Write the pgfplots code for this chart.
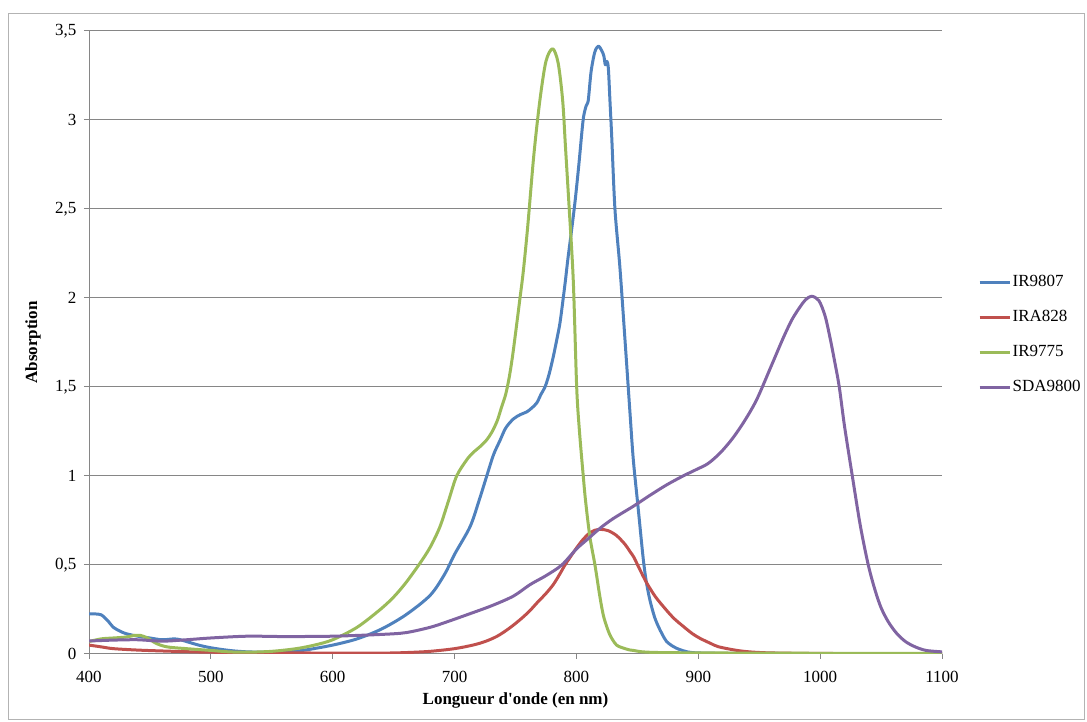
\documentclass[border=0pt]{standalone}
\usepackage{fontspec}
\setmainfont{Liberation Serif}[Ligatures=TeXOff]
\usepackage{pgfplots}
\usepackage{pgfplotstable}
\pgfplotsset{compat=1.18}
\definecolor{cblue}{HTML}{4F81BD}
\definecolor{cred}{HTML}{C0504D}
\definecolor{cgreen}{HTML}{9BBB59}
\definecolor{cpurple}{HTML}{8064A2}
\definecolor{gridgray}{HTML}{868686}
\definecolor{framegray}{HTML}{B3B3B3}

\pgfplotstableread{
x y
400 0.225
405 0.225
410 0.22
415 0.19
420 0.15
425 0.13
430 0.115
440 0.10
450 0.09
460 0.08
470 0.085
475 0.08
480 0.07
490 0.05
500 0.035
515 0.02
530 0.012
550 0.01
565 0.012
580 0.025
600 0.05
620 0.085
640 0.14
660 0.22
680 0.33
692 0.45
700 0.56
712.7 0.715
720 0.86
726.4 1.0
732 1.12
737.3 1.20
742 1.27
748.2 1.32
754 1.345
759.2 1.36
763 1.38
767.4 1.41
771 1.46
774.2 1.50
777.5 1.57
781 1.67
784 1.77
786.5 1.86
789 1.99
791 2.10
793 2.22
796 2.38
799 2.55
802 2.75
805.5 3.0
808 3.08
809.7 3.11
812 3.27
815 3.38
818 3.415
820.7 3.39
822.5 3.36
823.7 3.31
825 3.33
826.2 3.29
827.5 3.11
829 2.9
831.6 2.5
835.7 2.17
840 1.75
844 1.35
846.7 1.09
850.8 0.81
854.9 0.53
857.5 0.40
860.4 0.30
864 0.21
867.2 0.155
870.5 0.11
874 0.07
880 0.04
887.7 0.018
900 0.006
950 0.003
1100 0.002
}\tblue

\pgfplotstableread{
x y
400 0.05
410 0.04
420 0.03
440 0.022
460 0.017
480 0.013
500 0.01
550 0.007
600 0.005
640 0.005
660 0.008
680 0.015
700 0.03
715 0.05
725 0.07
735 0.10
745 0.145
755 0.20
762 0.245
768 0.29
775 0.34
781 0.39
786 0.445
790.6 0.50
795 0.545
800 0.595
805 0.64
810 0.675
815 0.695
820 0.70
826 0.693
833 0.665
840 0.615
844 0.575
847 0.545
852 0.475
857.6 0.40
865 0.32
874 0.245
880 0.20
887.7 0.155
895 0.115
901.4 0.088
910 0.06
916.4 0.041
930 0.022
942 0.012
960 0.006
1000 0.003
1100 0.002
}\tred

\pgfplotstableread{
x y
400 0.07
410 0.085
420 0.09
430 0.095
438 0.105
442 0.105
448 0.09
455 0.06
464 0.04
480 0.03
500 0.02
515 0.012
530 0.01
550 0.015
570 0.03
585 0.05
600 0.08
620 0.15
639 0.25
650 0.32
660 0.40
671.6 0.51
680 0.60
688 0.715
695 0.86
701.7 1.0
709.9 1.09
715 1.13
720.9 1.165
726 1.20
730.5 1.245
735 1.31
738.7 1.39
742 1.46
745 1.56
747.5 1.67
750 1.80
753.7 2.0
756.4 2.15
760 2.40
765 2.80
770 3.11
775 3.33
780.5 3.40
785 3.32
788.7 3.11
791 2.85
794 2.51
797.4 2.10
800.2 1.50
802.5 1.25
805.6 1.0
807.5 0.86
811 0.66
815.2 0.5
819.3 0.32
822 0.22
824.8 0.155
828 0.10
833 0.05
840 0.03
846.7 0.02
870 0.008
1000 0.004
1100 0.003
}\tgreen

\pgfplotstableread{
x y
400 0.073
420 0.078
440 0.08
460 0.072
480 0.08
500 0.09
530 0.10
560 0.098
600 0.10
640 0.11
660 0.12
680 0.15
693.5 0.18
710 0.22
730 0.27
748.2 0.325
762 0.39
775 0.44
788 0.50
800 0.59
810 0.65
819.3 0.706
830 0.76
846.7 0.83
860 0.89
874 0.95
887.5 1.0
898 1.035
908 1.07
918 1.13
928 1.21
938 1.31
948 1.43
960 1.62
970 1.78
977 1.88
983.5 1.95
988 1.99
993 2.01
999 1.985
1004 1.9
1008 1.78
1012 1.64
1015.7 1.50
1020 1.28
1026.4 1.0
1033 0.72
1039.5 0.5
1045 0.36
1050 0.26
1056 0.18
1062.8 0.116
1070 0.07
1078 0.04
1087 0.02
1100 0.012
}\tpurple

\begin{document}
\begin{tikzpicture}[x=1pt,y=1pt]
\useasboundingbox (0,0) rectangle (1087,722);
\draw[framegray, line width=1pt] (8.5,2.5) rectangle (1084.5,708);
\begin{axis}[
  at={(89pt,68pt)}, anchor=south west,
  scale only axis, width=853pt, height=623pt,
  xmin=400, xmax=1100, ymin=0, ymax=3.5,
  xtick={400,500,...,1100}, ytick={0,0.5,...,3.5},
  axis x line*=bottom, axis y line*=left,
  axis line style={gridgray, line width=1pt},
  ymajorgrids, grid style={gridgray, line width=1pt},
  major tick length=5pt, tick align=outside,
  tick style={gridgray, line width=1pt},
  ticklabel style={font=\fontsize{17}{20}\selectfont},
  xticklabel style={yshift=-9pt},
  yticklabel style={xshift=-4pt},
  /pgf/number format/assume math mode=true,
  /pgf/number format/use comma,
  /pgf/number format/1000 sep={},
  /pgf/number format/fixed,
  xlabel={\textbf{Longueur d'onde (en nm)}},
  ylabel={\textbf{Absorption}},
  label style={font=\fontsize{17}{20}\selectfont},
  xlabel style={at={(rel axis cs:0.5,0)}, anchor=center, yshift=-46pt},
  ylabel style={at={(rel axis cs:0,0.5)}, anchor=center, yshift=56pt},
  legend cell align=left,
  legend style={at={(rel axis cs:1.0387,0.612)}, anchor=north west, draw=none, fill=none,
    font=\fontsize{17}{20}\selectfont, row sep=19pt, column sep=1.5pt,
    nodes={inner sep=0pt, text height=12pt, text depth=4pt}},
  legend image code/.code={\draw[#1, line width=3pt] (0pt,0pt) -- (30pt,0pt);},
  every axis plot/.append style={line width=3pt, line join=round, smooth, tension=0.5},
  clip=true,
]
\addplot[cblue] table {\tblue};
\addlegendentry{IR9807}
\addplot[cred] table {\tred};
\addlegendentry{IRA828}
\addplot[cgreen] table {\tgreen};
\addlegendentry{IR9775}
\addplot[cpurple] table {\tpurple};
\addlegendentry{SDA9800}
\end{axis}
\end{tikzpicture}
\end{document}
